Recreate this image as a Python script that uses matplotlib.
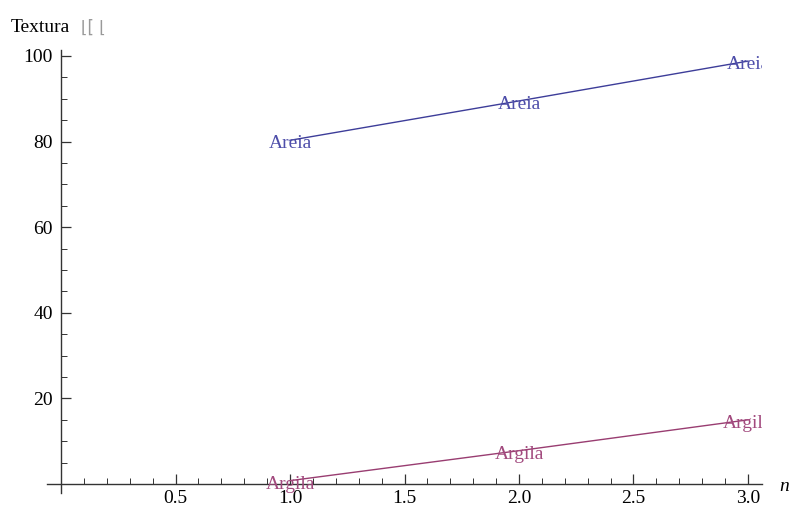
import matplotlib
matplotlib.use("Agg")
import matplotlib.pyplot as plt
import matplotlib.transforms as mtransforms
from matplotlib.ticker import MultipleLocator

##data
n_values = [1, 2, 3]
areia = [80.3, 89.5, 98.8]
argila = [0.8, 7.8, 15.0]
x_ticks = [0.5, 1.0, 1.5, 2.0, 2.5, 3.0]
y_ticks = [20, 40, 60, 80, 100]

serif = ["Liberation Serif", "DejaVu Serif"]
plt.rcParams["font.family"] = serif

fig = plt.figure(figsize=(7.9, 5.14), dpi=100)
ax = fig.add_axes([0.0599, 0.0416, 0.9043, 0.862])

##labels sit a little below the point, like Mathematica does
label_shift = mtransforms.offset_copy(ax.transData, fig=fig, x=0, y=-2.5, units="points")

series = [("Areia", areia, "#3d3d99", "#4e4eaa"),
          ("Argila", argila, "#993d71", "#a24a7e")]
for name, vals, lc, tc in series:
    ax.plot(n_values, vals, color=lc, lw=1.0, zorder=2)
    for xv, yv in zip(n_values, vals):
        ax.text(xv, yv, name, color=tc, fontsize=14, ha="center", va="center",
                clip_on=True, zorder=3, transform=label_shift)

ax.set_xlim(-0.06, 3.06)
ax.set_ylim(-2, 101.5)

##Mathematica style axes through the origin
for s in ["top", "right"]:
    ax.spines[s].set_visible(False)
ax.spines["left"].set_position(("data", 0))
ax.spines["bottom"].set_position(("data", 0))
for s in ["left", "bottom"]:
    ax.spines[s].set_color("#333333")
    ax.spines[s].set_linewidth(1.0)

ax.set_xticks(x_ticks)
ax.set_xticklabels([f"{t:.1f}" for t in x_ticks])
ax.set_yticks(y_ticks)
ax.set_yticklabels([str(t) for t in y_ticks])
ax.xaxis.set_minor_locator(MultipleLocator(0.1))
ax.yaxis.set_minor_locator(MultipleLocator(5))
ax.tick_params(axis="both", which="major", direction="in", length=7, width=0.9,
               color="#333333", labelsize=14, labelcolor="black")
ax.tick_params(axis="both", which="minor", direction="in", length=4, width=0.7,
               color="#333333")
ax.tick_params(axis="x", pad=4)
ax.tick_params(axis="y", pad=6)

##axis labels
fig.text(0.013, 0.946, "Textura", fontsize=14, ha="left", va="center")
fig.text(0.103, 0.946, "\u230a[ \u230a", fontsize=12, color="#999999",
         ha="left", va="center", family=["DejaVu Sans"])
fig.text(0.987, 0.053, "n", fontsize=14, style="italic", ha="left", va="center")

fig.savefig("out.png", dpi=100)
